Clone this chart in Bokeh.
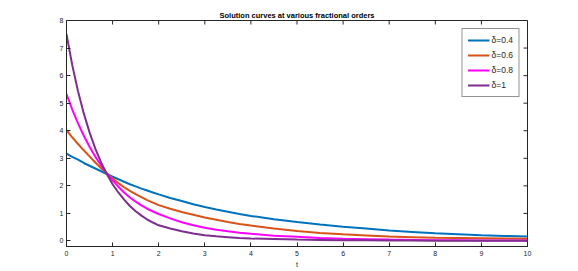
import math
from bokeh.plotting import figure
from bokeh.models import Range1d, FixedTicker, Legend, LegendItem
from bokeh.embed import file_html
from bokeh.resources import INLINE

# time grid
t = [0, 0.125, 0.25, 0.375, 0.5, 0.625, 0.75, 0.875, 1, 1.125, 1.25, 1.375, 1.5, 1.625, 1.75, 1.875, 2,
     2.25, 2.5, 2.75, 3, 3.25, 3.5, 3.75, 4,
     4.5, 5, 5.5, 6, 6.5, 7, 7.5, 8, 8.5, 9, 9.5, 10]
# solution curves
u_04 = [3.17, 3.05, 2.95, 2.83, 2.73, 2.63, 2.53, 2.43, 2.33, 2.24, 2.15, 2.06, 1.98, 1.90, 1.83, 1.76, 1.69,
        1.56, 1.45, 1.33, 1.23, 1.14, 1.06, 0.98, 0.91,
        0.79, 0.69, 0.60, 0.52, 0.45, 0.38, 0.33, 0.28, 0.245, 0.21, 0.185, 0.16]
u_06 = [4.02, 3.76, 3.52, 3.29, 3.07, 2.85, 2.64, 2.45, 2.27, 2.10, 1.95, 1.82, 1.70, 1.59, 1.48, 1.39, 1.30,
        1.17, 1.05, 0.95, 0.85, 0.77, 0.69, 0.62, 0.56,
        0.45, 0.36, 0.29, 0.24, 0.20, 0.16, 0.14, 0.12, 0.11, 0.10, 0.09, 0.08]
u_08 = [5.33, 4.77, 4.27, 3.82, 3.42, 3.06, 2.74, 2.45, 2.20, 1.97, 1.76, 1.58, 1.43, 1.29, 1.17, 1.07, 0.98,
        0.82, 0.68, 0.57, 0.48, 0.41, 0.35, 0.30, 0.26,
        0.19, 0.15, 0.11, 0.08, 0.065, 0.05, 0.04, 0.03, 0.025, 0.02, 0.02, 0.02]
u_10 = [7.50, 6.38, 5.43, 4.63, 3.94, 3.35, 2.85, 2.43, 2.06, 1.76, 1.50, 1.27, 1.08, 0.92, 0.78, 0.67, 0.57,
        0.45, 0.35, 0.27, 0.21, 0.17, 0.14, 0.11, 0.09,
        0.07, 0.05, 0.04, 0.03, 0.025, 0.02, 0.015, 0.01, 0.01, 0.01, 0.01, 0.01]

series = [u_04, u_06, u_08, u_10]
labels = ["\u03b4=0.4", "\u03b4=0.6", "\u03b4=0.8", "\u03b4=1"]
colors = ["#0072BD", "#D95319", "#FF00FF", "#7E2F8E"]
x_ticks = list(range(0, 11))
y_ticks = list(range(0, 9))
X_MIN, X_MAX = 0, 10
Y_MIN, Y_MAX = -0.2, 8

FONT = "Liberation Sans"
AX = "#262626"

p = figure(width=578, height=271, output_backend="svg", toolbar_location=None,
           x_range=Range1d(X_MIN, X_MAX), y_range=Range1d(Y_MIN, Y_MAX),
           min_border_left=66, min_border_right=51, min_border_top=20, min_border_bottom=25,
           title="Solution curves at various fractional orders")
p.title.align = "center"
p.title.text_font = FONT
p.title.text_font_size = "7.5px"
p.title.text_font_style = "bold"
p.title.text_color = "#000000"
p.title.standoff = 1
p.title.offset = 0

p.xgrid.visible = False
p.ygrid.visible = False
p.outline_line_color = AX
p.outline_line_width = 1
p.background_fill_color = "white"
p.border_fill_color = "white"

for ax, ticks in ((p.xaxis[0], x_ticks), (p.yaxis[0], y_ticks)):
    ax.ticker = FixedTicker(ticks=ticks)
    ax.major_tick_in = 4
    ax.major_tick_out = 0
    ax.minor_tick_line_color = None
    ax.axis_line_color = AX
    ax.major_tick_line_color = AX
    ax.major_label_text_font = FONT
    ax.major_label_text_font_size = "7px"
    ax.major_label_text_color = AX
    ax.major_label_standoff = 3

p.xaxis[0].axis_label = "t"
p.xaxis[0].axis_label_text_font = FONT
p.xaxis[0].axis_label_text_font_size = "7px"
p.xaxis[0].axis_label_text_font_style = "normal"
p.xaxis[0].axis_label_text_color = AX
p.xaxis[0].axis_label_standoff = 2
p.xaxis[0].major_label_standoff = 4

# inward ticks on the top and right edges of the box
p.ray(x=x_ticks, y=[Y_MAX] * len(x_ticks), length=4, length_units="screen",
      angle=-math.pi / 2, line_color=AX, line_width=1)
p.ray(x=[X_MAX] * len(y_ticks), y=y_ticks, length=4, length_units="screen",
      angle=math.pi, line_color=AX, line_width=1)

items = []
for ys, lab, col in zip(series, labels, colors):
    r = p.line(t, ys, line_color=col, line_width=2)
    items.append(LegendItem(label=lab, renderers=[r]))

legend = Legend(items=items, location="top_right")
legend.margin = 8
legend.padding = 5
legend.spacing = 3
legend.glyph_width = 22
legend.glyph_height = 12
legend.label_height = 12
legend.label_standoff = 2
legend.label_text_font = FONT
legend.label_text_font_size = "8.5px"
legend.label_text_color = AX
legend.border_line_color = AX
legend.border_line_width = 1
legend.background_fill_color = "white"
legend.background_fill_alpha = 1
p.add_layout(legend)

open("out.html", "w").write(file_html(p, INLINE))
